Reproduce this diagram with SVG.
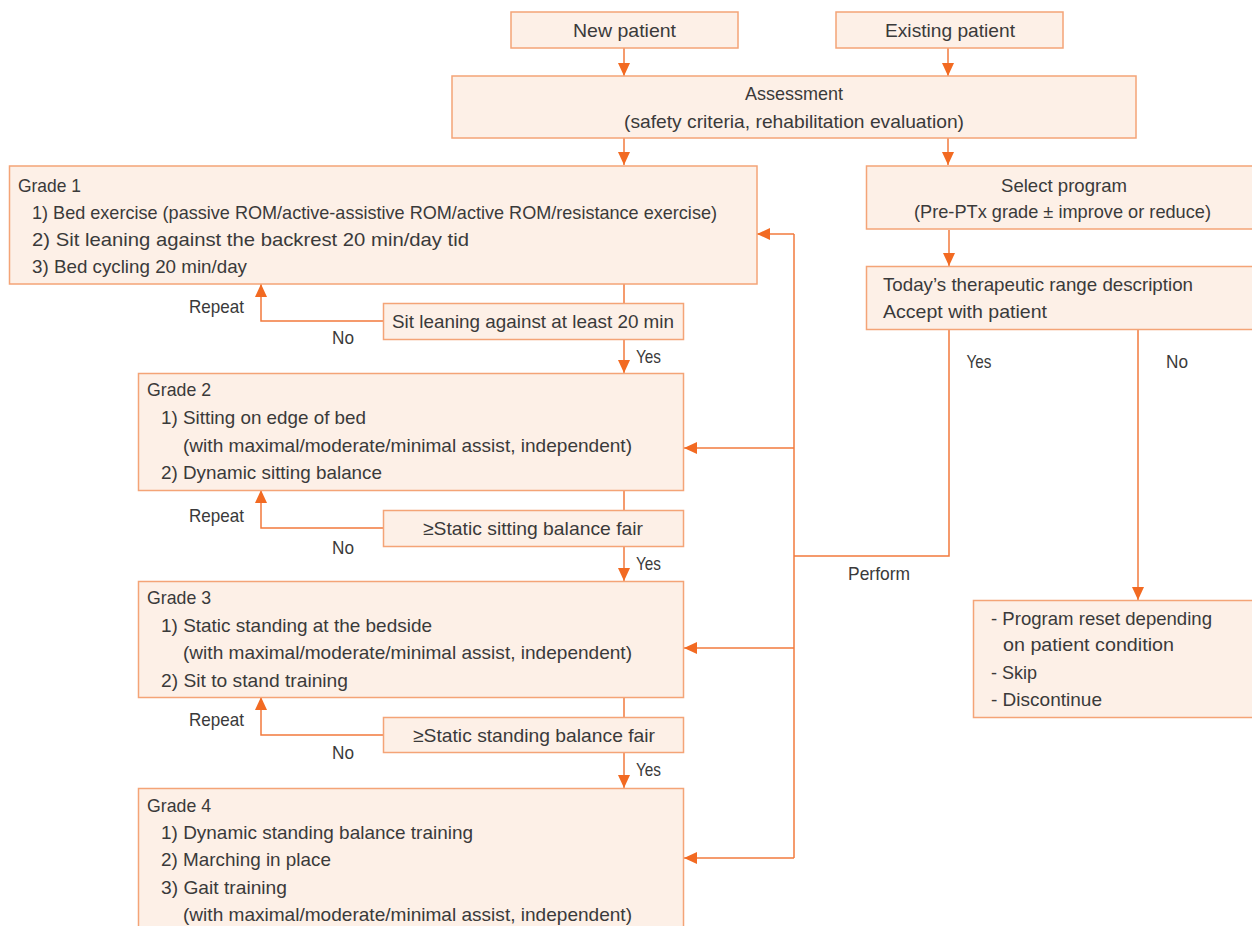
<svg xmlns="http://www.w3.org/2000/svg" width="1252" height="926" viewBox="0 0 1252 926">
<style>
.box{fill:#FDF0E7;stroke:#F4A477;stroke-width:1.5}
.t{font-family:"Liberation Sans","Noto Sans",sans-serif;font-size:19px;fill:#3a3a3a;dominant-baseline:central}
.c{text-anchor:middle}
.ln{fill:none;stroke:#F27A3C;stroke-width:1.5}
.ar{marker-end:url(#ah)}
</style>
<defs>
<marker id="ah" markerUnits="userSpaceOnUse" markerWidth="13" markerHeight="12" refX="13" refY="6" orient="auto" viewBox="0 0 13 12">
<path d="M0,0 L13,6 L0,12 z" fill="#F26A22"/>
</marker>
</defs>
<rect width="1252" height="926" fill="#ffffff"/>

<g id="connectors">
<path class="ln ar" d="M624 48 V76"/>
<path class="ln ar" d="M948 48 V76"/>
<path class="ln ar" d="M624 138 V165"/>
<path class="ln ar" d="M948 138 V165"/>
<path class="ln ar" d="M949 230 V266"/>
<path class="ln" d="M949 330 V556 H794"/>
<path class="ln ar" d="M1138 330 V600"/>
<path class="ln" d="M794 234 V858"/>
<path class="ln ar" d="M794 234 H757"/>
<path class="ln ar" d="M794 448 H684"/>
<path class="ln ar" d="M794 648 H684"/>
<path class="ln ar" d="M794 858 H684"/>
<path class="ln" d="M624 284 V303"/>
<path class="ln ar" d="M624 339 V373"/>
<path class="ln ar" d="M383 321 H261 V284"/>
<path class="ln" d="M624 490 V510"/>
<path class="ln ar" d="M624 546 V581"/>
<path class="ln ar" d="M383 528 H261 V490"/>
<path class="ln" d="M624 697 V717"/>
<path class="ln ar" d="M624 752 V788"/>
<path class="ln ar" d="M383 735 H261 V697"/>
<text class="t c" x="216.5" y="306" textLength="55" lengthAdjust="spacingAndGlyphs">Repeat</text>
<text class="t c" x="343" y="337" textLength="22" lengthAdjust="spacingAndGlyphs">No</text>
<text class="t c" x="648.5" y="356" textLength="25" lengthAdjust="spacingAndGlyphs">Yes</text>
<text class="t c" x="216.5" y="515" textLength="55" lengthAdjust="spacingAndGlyphs">Repeat</text>
<text class="t c" x="343" y="547" textLength="22" lengthAdjust="spacingAndGlyphs">No</text>
<text class="t c" x="648.5" y="563" textLength="25" lengthAdjust="spacingAndGlyphs">Yes</text>
<text class="t c" x="216.5" y="719" textLength="55" lengthAdjust="spacingAndGlyphs">Repeat</text>
<text class="t c" x="343" y="752" textLength="22" lengthAdjust="spacingAndGlyphs">No</text>
<text class="t c" x="648.5" y="769" textLength="25" lengthAdjust="spacingAndGlyphs">Yes</text>
<text class="t c" x="979" y="361" textLength="25" lengthAdjust="spacingAndGlyphs">Yes</text>
<text class="t c" x="1177" y="361" textLength="22" lengthAdjust="spacingAndGlyphs">No</text>
<text class="t c" x="879" y="573" textLength="62" lengthAdjust="spacingAndGlyphs">Perform</text>
</g>

<g id="new-patient">
<rect class="box" x="511" y="12" width="227" height="36"/>
<text class="t c" x="624.5" y="30" textLength="103" lengthAdjust="spacingAndGlyphs">New patient</text>
</g>
<g id="existing-patient">
<rect class="box" x="836" y="12" width="227" height="36"/>
<text class="t c" x="950" y="30" textLength="130" lengthAdjust="spacingAndGlyphs">Existing patient</text>
</g>
<g id="assessment">
<rect class="box" x="452" y="76" width="684" height="62"/>
<text class="t c" x="794" y="93" textLength="98" lengthAdjust="spacingAndGlyphs">Assessment</text>
<text class="t c" x="794" y="121" textLength="340" lengthAdjust="spacingAndGlyphs">(safety criteria, rehabilitation evaluation)</text>
</g>
<g id="grade1">
<rect class="box" x="9.5" y="166" width="747.5" height="118"/>
<text class="t" x="18" y="185" textLength="63" lengthAdjust="spacingAndGlyphs">Grade 1</text>
<text class="t" x="32" y="212" textLength="685" lengthAdjust="spacingAndGlyphs">1) Bed exercise (passive ROM/active-assistive ROM/active ROM/resistance exercise)</text>
<text class="t" x="32" y="239" textLength="437" lengthAdjust="spacingAndGlyphs">2) Sit leaning against the backrest 20 min/day tid</text>
<text class="t" x="32" y="266" textLength="215" lengthAdjust="spacingAndGlyphs">3) Bed cycling 20 min/day</text>
</g>
<g id="select-program">
<rect class="box" x="866.5" y="166" width="400" height="63"/>
<text class="t c" x="1064" y="185" textLength="126" lengthAdjust="spacingAndGlyphs">Select program</text>
<text class="t c" x="1062.5" y="211" textLength="297" lengthAdjust="spacingAndGlyphs">(Pre-PTx grade ± improve or reduce)</text>
</g>
<g id="today">
<rect class="box" x="866.5" y="266.5" width="400" height="63"/>
<text class="t" x="883" y="284" textLength="310" lengthAdjust="spacingAndGlyphs">Today’s therapeutic range description</text>
<text class="t" x="883" y="311" textLength="164" lengthAdjust="spacingAndGlyphs">Accept with patient</text>
</g>
<g id="decision1">
<rect class="box" x="383.5" y="303.5" width="300" height="36"/>
<text class="t c" x="533" y="321.5" textLength="282" lengthAdjust="spacingAndGlyphs">Sit leaning against at least 20 min</text>
</g>
<g id="grade2">
<rect class="box" x="138.5" y="373.5" width="545" height="117"/>
<text class="t" x="147" y="389" textLength="64" lengthAdjust="spacingAndGlyphs">Grade 2</text>
<text class="t" x="161" y="417" textLength="205" lengthAdjust="spacingAndGlyphs">1) Sitting on edge of bed</text>
<text class="t" x="183" y="445" textLength="449" lengthAdjust="spacingAndGlyphs">(with maximal/moderate/minimal assist, independent)</text>
<text class="t" x="161" y="472" textLength="221" lengthAdjust="spacingAndGlyphs">2) Dynamic sitting balance</text>
</g>
<g id="decision2">
<rect class="box" x="383.5" y="510.5" width="300" height="36"/>
<text class="t c" x="533" y="528.5" textLength="220" lengthAdjust="spacingAndGlyphs">≥Static sitting balance fair</text>
</g>
<g id="grade3">
<rect class="box" x="138.5" y="581.5" width="545" height="116"/>
<text class="t" x="147" y="597" textLength="64" lengthAdjust="spacingAndGlyphs">Grade 3</text>
<text class="t" x="161" y="625" textLength="271" lengthAdjust="spacingAndGlyphs">1) Static standing at the bedside</text>
<text class="t" x="183" y="652" textLength="449" lengthAdjust="spacingAndGlyphs">(with maximal/moderate/minimal assist, independent)</text>
<text class="t" x="161" y="680" textLength="187" lengthAdjust="spacingAndGlyphs">2) Sit to stand training</text>
</g>
<g id="decision3">
<rect class="box" x="383.5" y="717.5" width="300" height="35"/>
<text class="t c" x="534" y="735" textLength="242" lengthAdjust="spacingAndGlyphs">≥Static standing balance fair</text>
</g>
<g id="grade4">
<rect class="box" x="138.5" y="788.5" width="545" height="150"/>
<text class="t" x="147" y="805" textLength="64" lengthAdjust="spacingAndGlyphs">Grade 4</text>
<text class="t" x="161" y="832" textLength="312" lengthAdjust="spacingAndGlyphs">1) Dynamic standing balance training</text>
<text class="t" x="161" y="859" textLength="170" lengthAdjust="spacingAndGlyphs">2) Marching in place</text>
<text class="t" x="161" y="887" textLength="126" lengthAdjust="spacingAndGlyphs">3) Gait training</text>
<text class="t" x="183" y="914" textLength="449" lengthAdjust="spacingAndGlyphs">(with maximal/moderate/minimal assist, independent)</text>
</g>
<g id="reset">
<rect class="box" x="973.5" y="600.5" width="300" height="117"/>
<text class="t" x="991" y="618" textLength="221" lengthAdjust="spacingAndGlyphs">- Program reset depending</text>
<text class="t" x="1003" y="644" textLength="171" lengthAdjust="spacingAndGlyphs">on patient condition</text>
<text class="t" x="991" y="672" textLength="46" lengthAdjust="spacingAndGlyphs">- Skip</text>
<text class="t" x="991" y="699" textLength="111" lengthAdjust="spacingAndGlyphs">- Discontinue</text>
</g>
</svg>
